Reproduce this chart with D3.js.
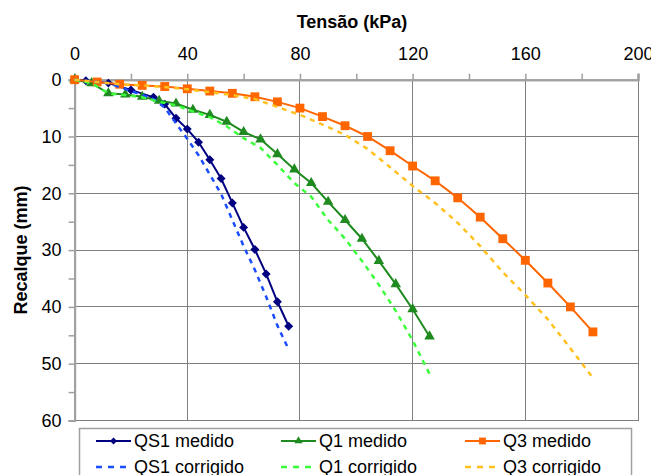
<!DOCTYPE html>
<html>
<head>
<meta charset="utf-8">
<script src="https://cdnjs.cloudflare.com/ajax/libs/d3/7.8.5/d3.min.js"></script>
<style>
  body { margin: 0; background: #fff; }
  text { font-family: "Liberation Sans", Arial, sans-serif; fill: #000; }
</style>
</head>
<body>
<div id="chart"></div>
<script>
// valores (tensao em kPa, recalque em mm)
var qs1Tensao = [0, 4, 12, 20, 28, 32, 36, 40, 44, 48, 52, 56, 60, 64, 68, 72, 76];
var qs1Medido = [0, 0.2, 0.6, 1.8, 3.1, 4.3, 6.8, 8.7, 11.0, 14.1, 17.4, 21.7, 26.0, 29.9, 34.2, 39.1, 43.4];
var qs1Corrigido = [0, 0.2, 0.6, 2.0, 3.4, 4.9, 7.7, 10.4, 13.3, 16.7, 20.1, 24.7, 29.3, 33.5, 38.2, 43.3, 47.5];

var q1Tensao = [0, 6, 12, 18, 24, 30, 36, 42, 48, 54, 60, 66, 72, 78, 84, 90, 96, 102, 108, 114, 120, 126];
var q1Medido = [0, 0.6, 2.4, 2.6, 3.0, 3.7, 4.2, 5.3, 6.2, 7.4, 9.2, 10.5, 13.1, 15.8, 18.2, 21.5, 24.7, 28.0, 31.9, 36.0, 40.4, 45.2];
var q1Corrigido = [0, 0.6, 2.4, 2.7, 3.1, 3.9, 4.5, 5.6, 6.6, 8.2, 10.3, 12.0, 15.0, 18.2, 20.6, 24.7, 28.0, 31.9, 36.1, 40.7, 45.9, 51.8];

var q3Tensao = [0, 8, 16, 24, 32, 40, 48, 56, 64, 72, 80, 88, 96, 104, 112, 120, 128, 136, 144, 152, 160, 168, 176, 184];
var q3Medido = [0, 0.4, 0.8, 1.0, 1.2, 1.6, 2.0, 2.4, 3.0, 3.9, 5.0, 6.5, 8.1, 10.0, 12.5, 15.2, 17.8, 20.8, 24.2, 28.0, 31.8, 35.8, 40.0, 44.4];
var q3Corrigido = [0, 0.4, 0.8, 1.0, 1.3, 1.7, 2.2, 2.7, 3.4, 4.8, 6.2, 7.9, 9.7, 12.2, 15.4, 18.7, 21.7, 25.2, 29.3, 33.9, 37.9, 42.2, 47.3, 52.5];

var xTicks = [0, 40, 80, 120, 160, 200];
var xMinor = [20, 60, 100, 140, 180];
var yTicks = [0, 10, 20, 30, 40, 50, 60];
var yMinor = [5, 15, 25, 35, 45, 55];

var legendNames = ["QS1 medido", "Q1 medido", "Q3 medido", "QS1 corrigido", "Q1 corrigido", "Q3 corrigido"];

var W = 651, H = 475;
// limites da area do grafico (window.top e reservado, por isso plotTop)
var plotLeft = 74.6, plotRight = 638, plotTop = 79.7, plotBottom = 420.5;

var svg = d3.select("#chart").append("svg")
  .attr("width", W).attr("height", H);

var x = d3.scaleLinear().domain([0, 200]).range([plotLeft, plotRight]);
var y = d3.scaleLinear().domain([0, 60]).range([plotTop, plotBottom]);

// grade
var grid = svg.append("g").attr("shape-rendering", "crispEdges");
grid.selectAll(".gx").data(xTicks.slice(1)).enter().append("line")
  .attr("x1", function(d) { return x(d); }).attr("x2", function(d) { return x(d); })
  .attr("y1", plotTop).attr("y2", plotBottom)
  .attr("stroke", "#7f7f7f").attr("stroke-width", 1);
grid.selectAll(".gy").data(yTicks.slice(1)).enter().append("line")
  .attr("y1", function(d) { return y(d); }).attr("y2", function(d) { return y(d); })
  .attr("x1", plotLeft).attr("x2", plotRight)
  .attr("stroke", "#7f7f7f").attr("stroke-width", 1);

// eixos
var xAxis = svg.append("g").attr("transform", "translate(0," + plotTop + ")")
  .call(d3.axisTop(x).tickValues(xTicks).tickSize(6).tickPadding(14).tickFormat(d3.format("d")));
var xAxisMinor = svg.append("g").attr("transform", "translate(0," + plotTop + ")")
  .call(d3.axisTop(x).tickValues(xMinor).tickSize(6).tickFormat(""));
var yAxis = svg.append("g").attr("transform", "translate(" + plotLeft + ",0)")
  .call(d3.axisLeft(y).tickValues(yTicks).tickSize(6).tickPadding(7).tickFormat(d3.format("d")));
var yAxisMinor = svg.append("g").attr("transform", "translate(" + plotLeft + ",0)")
  .call(d3.axisLeft(y).tickValues(yMinor).tickSize(6).tickFormat(""));

[xAxis, xAxisMinor, yAxis, yAxisMinor].forEach(function(a) {
  a.select(".domain").attr("stroke", "#a0a0a0").attr("stroke-width", 2);
  a.selectAll(".tick line").attr("stroke", "#a0a0a0").attr("stroke-width", 1.5);
  a.selectAll("text").style("font-size", "18px").style("font-family", "Liberation Sans, Arial, sans-serif").attr("fill", "#111");
});

// titulos
svg.append("text").attr("x", 352).attr("y", 28).attr("text-anchor", "middle")
  .style("font-size", "18px").style("font-weight", "bold").text("Tensão (kPa)");
svg.append("text").attr("transform", "translate(27,250) rotate(-90)").attr("text-anchor", "middle")
  .style("font-size", "18px").style("font-weight", "bold").text("Recalque (mm)");

var series = [
  { xs: qs1Tensao, ys: qs1Medido, color: "#000080", dash: null, symbol: "diamond" },
  { xs: q1Tensao, ys: q1Medido, color: "#1f8a1f", dash: null, symbol: "triangle" },
  { xs: q3Tensao, ys: q3Medido, color: "#ff6600", dash: null, symbol: "square" },
  { xs: qs1Tensao, ys: qs1Corrigido, color: "#1a4dff", dash: "5,5", symbol: null },
  { xs: q1Tensao, ys: q1Corrigido, color: "#3cff3c", dash: "5,5", symbol: null },
  { xs: q3Tensao, ys: q3Corrigido, color: "#ffc020", dash: "5,5", symbol: null }
];

function symbolPath(name, scale) {
  scale = scale || 1;
  if (name == "diamond") return d3.symbol().type(d3.symbolSquare).size(40 * scale)();
  if (name == "triangle") return d3.symbol().type(d3.symbolTriangle).size(48 * scale)();
  return d3.symbol().type(d3.symbolSquare).size(78 * scale)();
}

var line = d3.line()
  .x(function(d) { return x(d[0]); })
  .y(function(d) { return y(d[1]); });

var plot = svg.append("g");
series.forEach(function(s) {
  var pts = s.xs.map(function(v, i) { return [v, s.ys[i]]; });
  var g = plot.append("g");
  g.append("path").datum(pts)
    .attr("d", line)
    .attr("fill", "none")
    .attr("stroke", s.color)
    .attr("stroke-width", s.dash ? 2.5 : 2)
    .attr("stroke-dasharray", s.dash);
  if (s.symbol) {
    g.selectAll("path.m").data(pts).enter().append("path")
      .attr("class", "m")
      .attr("d", symbolPath(s.symbol))
      .attr("fill", s.color)
      .attr("transform", function(d) {
        return "translate(" + x(d[0]) + "," + y(d[1]) + ")" + (s.symbol == "diamond" ? " rotate(45)" : "");
      });
  }
});

// legenda
var legend = svg.append("g");
legend.append("rect").attr("x", 79.5).attr("y", 428.5).attr("width", 552).attr("height", 60)
  .attr("fill", "#fff").attr("stroke", "#a0a0a0").attr("stroke-width", 1.5);

var colX = [96, 281, 465];
var rowY = [441, 467];
series.forEach(function(s, i) {
  var cx = colX[i % 3], cy = rowY[Math.floor(i / 3)];
  var item = legend.append("g").attr("transform", "translate(" + cx + "," + cy + ")");
  item.append("line").attr("x1", 0).attr("x2", 35).attr("y1", 0).attr("y2", 0)
    .attr("stroke", s.color).attr("stroke-width", s.dash ? 2.5 : 2)
    .attr("stroke-dasharray", s.dash ? "6,6" : null);
  if (s.symbol) {
    item.append("path").attr("d", symbolPath(s.symbol, 0.6)).attr("fill", s.color)
      .attr("transform", "translate(17.5,0)" + (s.symbol == "diamond" ? " rotate(45)" : ""));
  }
  item.append("text").attr("x", 38).attr("y", 0).attr("dy", "0.35em")
    .style("font-size", "18px").text(legendNames[i]);
});
</script>
</body>
</html>
